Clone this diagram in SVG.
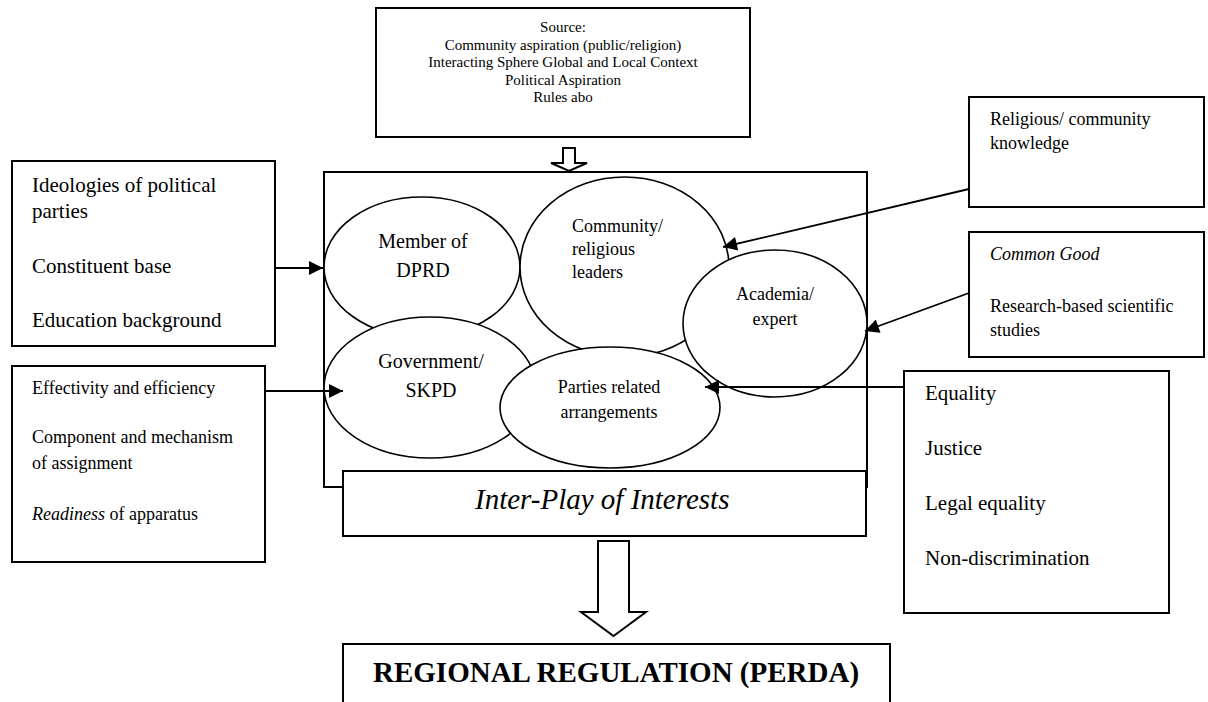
<svg xmlns="http://www.w3.org/2000/svg" width="1208" height="702" viewBox="0 0 1208 702">
<style>
.box{fill:#fff;stroke:#000;stroke-width:2}
.ell{fill:#fff;stroke:#000;stroke-width:1.6}
.t{font-family:"Liberation Serif","Times New Roman",serif;fill:#000}
.blk{fill:#fff;stroke:#000;stroke-width:2;stroke-linejoin:miter}
.con{fill:none;stroke:#000;stroke-width:1.8}
</style>
<defs>
<marker id="ah" viewBox="0 0 10 10" refX="10" refY="5" markerWidth="16" markerHeight="14" markerUnits="userSpaceOnUse" orient="auto">
<path d="M0,0 L10,5 L0,10 z" fill="#000"/>
</marker>
</defs>
<rect width="1208" height="702" fill="#fff"/>

<g id="source">
<rect class="box" x="376" y="8" width="374" height="129"/>
<g class="t" font-size="15" text-anchor="middle">
<text x="563" y="32">Source:</text>
<text x="563" y="49.5">Community aspiration (public/religion)</text>
<text x="563" y="67">Interacting Sphere Global and Local Context</text>
<text x="563" y="84.5">Political Aspiration</text>
<text x="563" y="102">Rules abo</text>
</g>
</g>

<g id="arrow-source">
<path class="blk" d="M563,148 L575,148 L575,163 L587,163 L569,171 L551,163 L563,163 Z"/>
</g>

<g id="interplay-frame">
<rect class="box" x="324" y="172" width="543" height="315" fill="none"/>
</g>

<g id="member">
<ellipse class="ell" cx="422" cy="267" rx="98" ry="70"/>
<text class="t" font-size="20" text-anchor="middle" x="423" y="248">Member of</text>
<text class="t" font-size="20" text-anchor="middle" x="423" y="277">DPRD</text>
</g>

<g id="community">
<ellipse class="ell" cx="624.5" cy="267" rx="104.5" ry="90"/>
<text class="t" font-size="18" x="572" y="232">Community/</text>
<text class="t" font-size="18" x="572" y="255">religious</text>
<text class="t" font-size="18" x="572" y="278">leaders</text>
</g>

<g id="government">
<ellipse class="ell" cx="430" cy="387.5" rx="106" ry="70.5"/>
<text class="t" font-size="20" text-anchor="middle" x="431" y="368">Government/</text>
<text class="t" font-size="20" text-anchor="middle" x="431" y="397">SKPD</text>
</g>

<g id="academia">
<ellipse class="ell" cx="775" cy="323.5" rx="92" ry="73.5"/>
<text class="t" font-size="18" text-anchor="middle" x="775" y="300">Academia/</text>
<text class="t" font-size="18" text-anchor="middle" x="775" y="325">expert</text>
</g>

<g id="parties">
<ellipse class="ell" cx="610" cy="407.5" rx="110" ry="60.5"/>
<text class="t" font-size="18" text-anchor="middle" x="609" y="393">Parties related</text>
<text class="t" font-size="18" text-anchor="middle" x="609" y="418">arrangements</text>
</g>

<g id="interplay">
<rect class="box" x="343" y="471" width="523" height="65"/>
<text class="t" font-size="29" font-style="italic" x="475" y="509">Inter-Play of Interests</text>
</g>

<g id="arrow-result">
<path class="blk" d="M598,541 L629,541 L629,612 L646,612 L613.5,636 L581,612 L598,612 Z"/>
</g>

<g id="perda">
<rect class="box" x="343" y="644" width="547" height="80"/>
<text class="t" font-size="29" font-weight="bold" x="373" y="682">REGIONAL REGULATION (PERDA)</text>
</g>

<g id="ideologies">
<rect class="box" x="12" y="161" width="263" height="185"/>
<g class="t" font-size="21">
<text x="32" y="192">Ideologies of political</text>
<text x="32" y="218">parties</text>
<text x="32" y="273">Constituent base</text>
<text x="32" y="327">Education background</text>
</g>
</g>

<g id="effectivity">
<rect class="box" x="12" y="366" width="253" height="196"/>
<g class="t" font-size="18">
<text x="32" y="394">Effectivity and efficiency</text>
<text x="32" y="443">Component and mechanism</text>
<text x="32" y="469">of assignment</text>
<text x="32" y="520"><tspan font-style="italic">Readiness</tspan> of apparatus</text>
</g>
</g>

<g id="religious">
<rect class="box" x="969" y="97" width="235" height="110"/>
<g class="t" font-size="18">
<text x="990" y="125">Religious/ community</text>
<text x="990" y="149">knowledge</text>
</g>
</g>

<g id="commongood">
<rect class="box" x="969" y="232" width="235" height="125"/>
<g class="t" font-size="18">
<text x="990" y="260" font-style="italic">Common Good</text>
<text x="990" y="312">Research-based scientific</text>
<text x="990" y="336">studies</text>
</g>
</g>

<g id="equality">
<rect class="box" x="904" y="371" width="265" height="242"/>
<g class="t" font-size="21">
<text x="925" y="400">Equality</text>
<text x="925" y="455">Justice</text>
<text x="925" y="510">Legal equality</text>
<text x="925" y="565">Non-discrimination</text>
</g>
</g>

<g id="connectors">
<line class="con" x1="275" y1="268" x2="323" y2="268" marker-end="url(#ah)"/>
<line class="con" x1="265" y1="391" x2="343" y2="391" marker-end="url(#ah)"/>
<line class="con" x1="969" y1="189" x2="723" y2="247" marker-end="url(#ah)"/>
<line class="con" x1="969" y1="293" x2="865" y2="331" marker-end="url(#ah)"/>
<line class="con" x1="904" y1="387" x2="705" y2="387" marker-end="url(#ah)"/>
</g>
</svg>
